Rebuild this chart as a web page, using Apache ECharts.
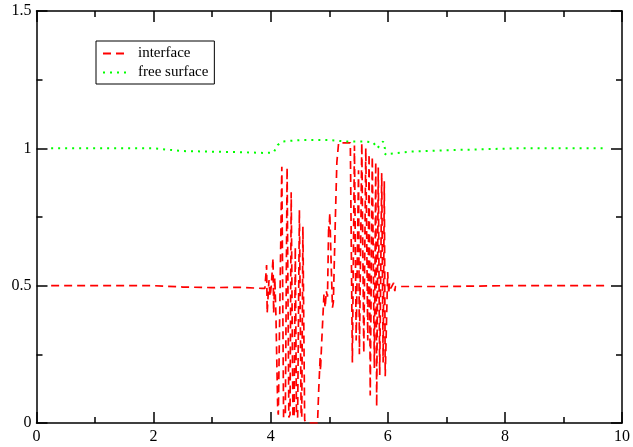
<!DOCTYPE html>
<html><head><meta charset="utf-8">
<script src="https://cdn.jsdelivr.net/npm/echarts@6/dist/echarts.min.js"></script>
<style>html,body{margin:0;padding:0;background:#fff}#c{width:633px;height:447px}</style>
</head><body><div id="c"></div><script>
// interface (red dashed) – parametric curve, x not monotonic
const interfaceX = [0.25,1.0,2.0,2.5,3.0,3.5,3.85,3.90,3.93,3.94,3.97,3.99,4.01,4.04,4.05,4.07,4.09,4.12,
  4.13,4.19,4.22,4.25,4.28,4.31,4.33,4.35,4.38,4.40,4.42,4.44,4.46,4.49,4.52,4.53,4.55,4.58,4.62,4.80,
  4.82,4.845,4.85,4.87,4.91,4.93,4.95,4.97,4.99,4.995,5.01,5.03,5.055,5.07,5.105,5.13,5.16,5.36,
  5.395,5.43,5.46,5.50,5.515,5.556,5.59,5.624,5.658,5.68,5.70,5.735,5.77,5.794,5.81,5.837,5.862,5.896,5.92,5.94,5.956,5.998,
  6.015,6.03,6.05,6.10,6.12,6.13,7.0,8.0,9.75];
const interfaceY = [0.50,0.50,0.50,0.495,0.493,0.494,0.49,0.49,0.575,0.40,0.52,0.46,0.50,0.60,0.40,0.53,0.386,0.05,
  0.03,0.933,0.02,0.03,0.93,0.02,0.03,0.84,0.02,0.03,0.64,0.03,0.02,0.775,0.03,0.02,0.715,0.01,0.0,0.0,
  0.12,0.24,0.19,0.29,0.47,0.42,0.48,0.46,0.72,0.70,0.765,0.60,0.42,0.44,0.75,0.95,1.02,1.02,
  0.22,1.01,0.30,0.92,0.25,1.02,0.255,1.0,0.30,0.98,0.10,0.97,0.20,0.95,0.06,0.93,0.175,0.91,0.22,0.88,0.17,0.55,
  0.47,0.51,0.49,0.51,0.48,0.497,0.497,0.50,0.50];
// free surface (green dotted)
const surfaceX = [0.25,2.0,2.5,3.0,3.5,3.9,4.05,4.12,4.2,4.5,5.0,5.3,5.6,5.75,5.82,5.86,5.92,5.95,5.93,5.98,6.05,6.4,7.0,7.7,8.2,9.75];
const surfaceY = [1.0,1.0,0.99,0.988,0.986,0.983,0.985,1.012,1.025,1.03,1.03,1.025,1.025,1.022,1.0,1.01,1.025,1.0,0.985,0.975,0.98,0.988,0.993,0.997,1.0,1.0];
const seriesNames = ['interface', 'free surface'];

const pair = (xs, ys) => xs.map((x, i) => [x, ys[i]]);
const FONT = "'Liberation Serif','Times New Roman',serif";
const axisCommon = {
  axisLine: {show: true, onZero: false, lineStyle: {color: '#000', width: 1.5}},
  axisTick: {show: true, inside: true, length: 11, lineStyle: {color: '#000', width: 1.5}},
  minorTick: {show: true, splitNumber: 2, length: 6, lineStyle: {color: '#000', width: 1.5}},
  splitLine: {show: false}
};
const xBase = Object.assign({type: 'value', min: 0, max: 10, interval: 2}, axisCommon);
const yBase = Object.assign({type: 'value', min: 0, max: 1.5, interval: 0.5}, axisCommon);

const chart = echarts.init(document.getElementById('c'), null, {renderer: 'canvas'});
chart.setOption({
  animation: false,
  backgroundColor: '#fff',
  grid: {left: 36.5, right: 8, top: 11, bottom: 24, containLabel: false},
  xAxis: [
    Object.assign({}, xBase, {position: 'bottom', axisLabel: {color: '#000', fontFamily: FONT, fontSize: 16, margin: 6}}),
    Object.assign({}, xBase, {position: 'top', axisLabel: {show: false}})
  ],
  yAxis: [
    Object.assign({}, yBase, {position: 'left', axisLabel: {color: '#000', fontFamily: FONT, fontSize: 16, margin: 5}}),
    Object.assign({}, yBase, {position: 'right', axisLabel: {show: false}})
  ],
  legend: {
    left: 96, top: 41, orient: 'vertical',
    borderColor: '#000', borderWidth: 1, borderRadius: 0,
    padding: [5, 6, 4, 6], itemGap: 4, itemWidth: 23, itemHeight: 14,
    itemStyle: {opacity: 0},
    textStyle: {fontFamily: FONT, fontSize: 15, color: '#000', padding: [0, 0, 0, 7]},
    data: seriesNames
  },
  series: [
    {name: seriesNames[0], type: 'line', data: pair(interfaceX, interfaceY), showSymbol: false, symbol: 'none',
     lineStyle: {color: '#ff0000', width: 1.7, type: [8, 5]}, itemStyle: {color: '#ff0000'}},
    {name: seriesNames[1], type: 'line', data: pair(surfaceX, surfaceY), showSymbol: false, symbol: 'none',
     lineStyle: {color: '#00ff00', width: 2, type: [2, 5]}, itemStyle: {color: '#00ff00'}}
  ]
});
</script></body></html>
